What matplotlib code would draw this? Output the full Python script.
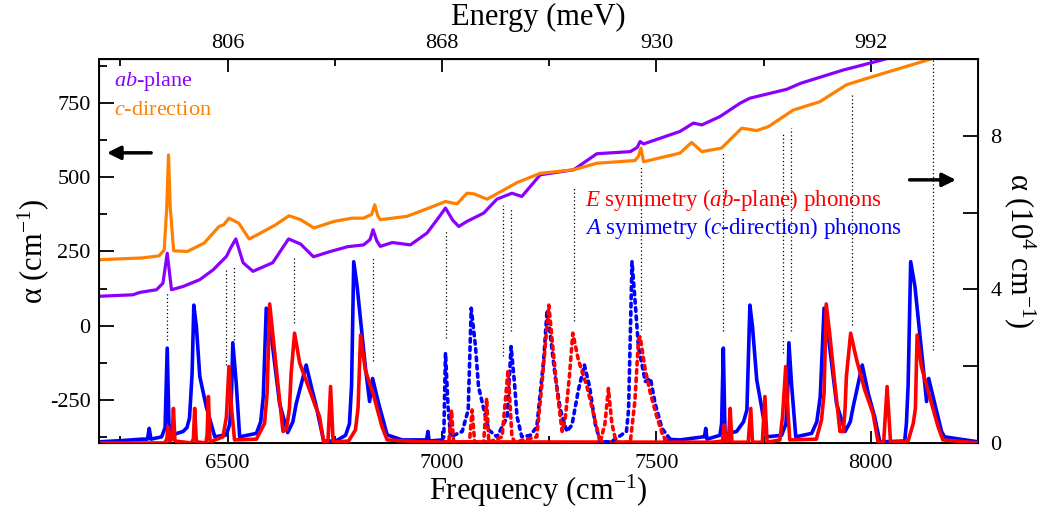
import numpy as np
import matplotlib
matplotlib.use("Agg")
import matplotlib.pyplot as plt

plt.rcParams['font.family'] = ['Liberation Serif', 'DejaVu Serif']
plt.rcParams['mathtext.fontset'] = 'custom'
plt.rcParams['mathtext.rm'] = 'Liberation Serif'
plt.rcParams['mathtext.it'] = 'Liberation Serif:italic'
plt.rcParams['axes.unicode_minus'] = False

# ab-plane and c-direction absorption (left axis, cm^-1)
ab_x = [6200, 6279, 6295, 6334, 6349, 6359, 6369, 6396, 6435, 6466, 6497, 6507, 6519, 6536, 6559,
        6605, 6642, 6670, 6700, 6740, 6780, 6817, 6832, 6839, 6848, 6856, 6884, 6926, 6965, 6990,
        7008, 7025, 7039, 7058, 7097, 7128, 7163, 7186, 7229, 7307, 7361, 7439, 7455, 7462, 7470,
        7555, 7586, 7606, 7648, 7695, 7718, 7804, 7836, 7936, 7998, 8052]
ab_y = [99, 104, 112, 121, 143, 244, 121, 132, 155, 188, 233, 262, 292, 212, 183,
        212, 292, 275, 232, 250, 266, 272, 290, 323, 285, 267, 280, 272, 312, 360,
        396, 355, 334, 351, 379, 426, 446, 435, 508, 525, 579, 586, 600, 620, 612,
        654, 682, 676, 704, 749, 766, 796, 816, 861, 884, 905]

c_x = [6200, 6300, 6340, 6352, 6358, 6362, 6366, 6374, 6406, 6445, 6480, 6491, 6503, 6526, 6550,
       6569, 6610, 6643, 6670, 6701, 6748, 6790, 6817, 6836, 6843, 6850, 6856, 6918, 6969, 7008,
       7035, 7058, 7074, 7105, 7144, 7175, 7229, 7307, 7361, 7450, 7458, 7464, 7470, 7555, 7582,
       7606, 7652, 7699, 7734, 7761, 7819, 7881, 7943, 8005, 8145]
c_y = [222, 228, 235, 255, 400, 575, 400, 252, 250, 278, 334, 340, 362, 345, 292,
       306, 338, 370, 357, 329, 351, 362, 362, 375, 407, 370, 357, 368, 396, 418,
       410, 446, 444, 426, 457, 482, 513, 525, 547, 556, 570, 598, 552, 581, 617,
       586, 598, 665, 657, 670, 726, 754, 811, 839, 900]

# dotted guide lines: position, bottom, top (left axis units)
guide_x = [6359, 6495, 6515, 6654, 6839, 7009, 7142, 7161, 7307, 7464, 7656, 7796, 7815, 7955, 8145]
guide_lo = [-47, -131, -47, 9, -120, -41, -103, -19, 15, -13, -19, -92, -19, 3, -81]
guide_hi = [110, 188, 200, 233, 233, 323, 407, 396, 463, 535, 586, 648, 665, 777, 900]

# calculated phonon spectra (right axis, 10^4 cm^-1)
A_x = [6200, 6250, 6300, 6313, 6317, 6321, 6346, 6354, 6359, 6363, 6368, 6396, 6405, 6411, 6417,
       6421, 6427, 6435, 6450, 6470, 6497, 6505, 6509, 6512, 6520, 6528, 6567, 6577, 6583, 6590,
       6602, 6621, 6640, 6652, 6660, 6683, 6699, 6705, 6724, 6752, 6775, 6784, 6789, 6794, 6802,
       6821, 6831, 6838, 6852, 6872, 6907, 6953, 6964, 6967, 6970, 7000, np.nan,
       7520, 7555, 7609, 7612, 7615, 7618, 7648, 7652, 7656, 7660, 7687, 7703, 7711, 7718, 7724,
       7734, 7745, 7757, 7792, 7802, 7806, 7809, 7815, 7825, 7862, 7874, 7882, 7891, 7901, 7920,
       7940, 7952, 7959, 7980, 7994, 8009, 8021, 8079, 8083, 8087, 8093, 8103, 8122, 8130, 8135,
       8149, 8165, 8172, 8250]
A_y = [0.03, 0.06, 0.1, 0.1, 0.38, 0.1, 0.16, 0.4, 2.47, 0.5, 0.2, 0.3, 0.4, 0.65, 1.8,
       3.59, 3.03, 1.73, 0.95, 0.16, 0.21, 0.5, 1.3, 2.61, 1.55, 0.16, 0.25, 0.55, 1.2, 3.51,
       2.77, 1.03, 0.27, 0.55, 1.03, 2.03, 1.29, 1.03, 0.05, 0.05, 0.2, 0.5, 1.5, 4.72, 4.07,
       1.99, 1.08, 1.68, 1.03, 0.21, 0.08, 0.08, 0.08, 0.3, 0.05, 0.08, np.nan,
       0.1, 0.08, 0.16, 0.16, 0.38, 0.1, 0.2, 0.5, 2.47, 0.23, 0.3, 0.55, 0.86, 3.59, 3.03,
       1.64, 0.95, 0.16, 0.2, 0.5, 1.3, 2.61, 1.55, 0.16, 0.25, 0.55, 1.2, 3.51, 2.77, 1.03,
       0.3, 0.55, 0.95, 2.03, 1.29, 0.68, 0.03, 0.05, 0.5, 1.5, 4.72, 4.07, 1.99, 1.08, 1.68,
       1.03, 0.3, 0.16, 0.03]

E_x = [6200, 6353, 6358, 6361, 6365, 6370, 6373.5, 6377, 6415, 6420, 6423, 6427, 6449, 6452, 6455,
       6459, 6489, 6497, 6503, 6509, 6516, 6567, 6586, 6592, 6598, 6605, 6617, 6629, 6637, 6644,
       6648, 6656, 6668, 6691, 6705, 6714, 6724, 6734, 6740, 6746, 6782, 6798, 6804, 6810, 6821,
       6841, 6860, 6872, 6950, 7630, 7654, 7658, 7662, 7668, 7672, 7676, 7714, 7720, 7724, 7747,
       7753, 7758, 7788, 7794, 7801.5, 7807.5, 7811, 7873, 7885, 7891, 7896, 7904, 7916, 7928, 7936,
       7940, 7943, 7953, 7967, 7986, 8005, 8017, 8030, 8038, 8046, 8087, 8099, 8104, 8108, 8118,
       8137, 8157, 8168, 8250]
E_y = [0, 0, 0.1, 0.42, 0.05, 0.1, 0.9, 0.05, 0, 0.1, 0.9, 0.03, 0, 0.2, 1.21,
       0.03, 0.16, 0.68, 1.99, 0.9, 0.08, 0.1, 0.51, 1.3, 3.62, 2.86, 1.55, 0.3, 0.35, 0.9,
       1.81, 2.86, 2.08, 1.38, 0.95, 0.7, 0.02, 0.05, 1.47, 0.02, 0.05, 0.34, 0.9, 2.81, 1.9,
       1.21, 0.42, 0.08, 0.03, 0.02, 0.05, 0.47, 0.02, 0.05, 0.9, 0.02, 0.02, 0.9, 0.02, 0.02,
       1.21, 0.02, 0.08, 0.68, 1.99, 0.68, 0.08, 0.1, 0.6, 1.3, 3.62, 2.86, 1.55, 0.3, 0.3,
       0.9, 1.73, 2.86, 2.16, 1.38, 0.77, 0.02, 0.02, 1.47, 0.02, 0.05, 0.51, 0.9, 2.81, 1.99,
       1.21, 0.42, 0.08, 0]

A_dot_x = [7000, 7004, 7008, 7014, 7020, 7047, 7061, 7068, 7078, 7085, 7095, 7109, 7128, 7152, 7161,
           7169, 7175, 7186, 7206, 7221, 7237, 7245, 7252, 7264, 7276, 7291, 7303, 7318, 7332, 7344,
           7357, 7369, 7395, 7430, 7435, 7443, 7450, 7458, 7474, 7486, 7497, 7513, 7532]
A_dot_y = [0.08, 0.16, 2.34, 0.95, 0.16, 0.3, 0.86, 3.51, 2.51, 1.47, 0.99, 0.34, 0.16, 0.68, 2.51,
           1.55, 0.68, 0.16, 0.2, 0.42, 2.16, 3.46, 2.86, 1.73, 0.86, 0.3, 0.47, 1.38, 2.03, 1.47,
           0.51, 0.03, 0.03, 0.3, 0.86, 4.72, 3.72, 2.51, 1.6, 1.68, 1.03, 0.38, 0.1]

E_dot_x = [7000, 7016, 7022, 7027, 7064, 7070, 7076, 7097, 7104, 7109, 7140, 7154, 7163, 7170, 7221,
           7233, 7249, 7256, 7268, 7280, 7287, 7297, 7305, 7318, 7338, 7353, 7369, 7380, 7388, 7396,
           7406, 7439, 7450, 7458, 7462, 7474, 7486, 7501, 7516, 7532]
E_dot_y = [0.02, 0.05, 0.86, 0.02, 0.02, 0.86, 0.02, 0.02, 1.16, 0.02, 0.16, 1.9, 0.16, 0.02, 0.16,
           1.55, 3.59, 2.77, 1.38, 0.3, 0.6, 1.73, 2.86, 2.16, 1.47, 0.77, 0.02, 0.51, 1.42, 0.51,
           0.02, 0.02, 1.12, 2.68, 2.77, 1.9, 1.29, 0.68, 0.16, 0.02]

purple = '#8a00ff'
orange = '#ff8000'
blue = '#0000ff'
red = '#ff0000'

fig = plt.figure(figsize=(10.47, 5.12), dpi=100)
ax = fig.add_axes([0.0946, 0.1348, 0.8395, 0.75])

ax.plot(ab_x, ab_y, color=purple, lw=2.3, zorder=3)
ax.plot(c_x, c_y, color=orange, lw=2.3, zorder=3)
ax.vlines(guide_x, guide_lo, guide_hi, colors='black', linestyles=(0, (1, 2)), lw=0.9, zorder=2)

ax.set_xlim(6200, 8250)
ax.set_ylim(-395, 898)
ax.set_xticks([6500, 7000, 7500, 8000])
ax.set_xticks([6250, 6750, 7250, 7750], minor=True)
ax.set_yticks([-250, 0, 250, 500, 750])
ax.set_yticks([-375, -125, 125, 375, 625, 875], minor=True)
ax.tick_params(which='both', direction='in', labelsize=16, width=1.3)
ax.tick_params(axis='x', which='major', length=9, pad=8)
ax.tick_params(axis='x', which='minor', length=5)
ax.tick_params(axis='y', which='major', length=11, pad=6)
ax.tick_params(axis='y', which='minor', length=6)
ax.set_xlabel(r'Frequency (cm$^{-1}$)', fontsize=22, labelpad=0)
ax.set_ylabel(r'α (cm$^{-1}$)', fontsize=22, labelpad=-1)
for s in ax.spines.values():
    s.set_linewidth(1.4)

ax.text(6235, 821, r'$\mathit{ab}$-plane', color=purple, fontsize=16, va='center')
ax.text(6235, 723, r'$\mathit{c}$-direction', color=orange, fontsize=16, va='center')
ax.text(7334, 424, r'$\mathit{E}$ symmetry ($\mathit{ab}$-plane) phonons', color=red, fontsize=16.5, va='center')
ax.text(7334, 330, r'$\mathit{A}$ symmetry ($\mathit{c}$-direction) phonons', color=blue, fontsize=16.5, va='center')

ax.annotate('', xy=(6212, 582), xytext=(6328, 582),
            arrowprops=dict(arrowstyle='-|>', color='black', lw=2.5, mutation_scale=20))
ax.annotate('', xy=(8205, 491), xytext=(8084, 491),
            arrowprops=dict(arrowstyle='-|>', color='black', lw=2.5, mutation_scale=20))

# right axis: phonon spectra
ax2 = ax.twinx()
ax2.plot(A_x, A_y, color=blue, lw=2.6, solid_joinstyle='round')
ax2.plot(E_x, E_y, color=red, lw=2.6, solid_joinstyle='round')
ax2.plot(A_dot_x, A_dot_y, color=blue, lw=2.6, linestyle=(0, (1.0, 1.3)), dash_capstyle='round')
ax2.plot(E_dot_x, E_dot_y, color=red, lw=2.6, linestyle=(0, (1.0, 1.3)), dash_capstyle='round')
ax2.set_ylim(0, 10)
ax2.set_yticks([0, 4, 8])
ax2.set_yticks([2, 6, 10], minor=True)
ax2.tick_params(which='both', direction='in', labelsize=16, width=1.3, length=11, pad=9)
ax2.set_ylabel(r'α (10$^{4}$ cm$^{-1}$)', fontsize=22, rotation=-90, labelpad=26)

# top axis: energy in meV
top = ax.secondary_xaxis('top')
top.set_xticks([6500, 7000, 7500, 8000])
top.set_xticklabels(['806', '868', '930', '992'])
top.set_xticks([6250, 6750, 7250, 7750], minor=True)
top.tick_params(which='both', direction='in', labelsize=16, width=1.3)
top.tick_params(which='major', length=9, pad=4)
top.tick_params(which='minor', length=5)
top.set_xlabel('Energy (meV)', fontsize=22, labelpad=7)

fig.savefig('out.png', dpi=100)
